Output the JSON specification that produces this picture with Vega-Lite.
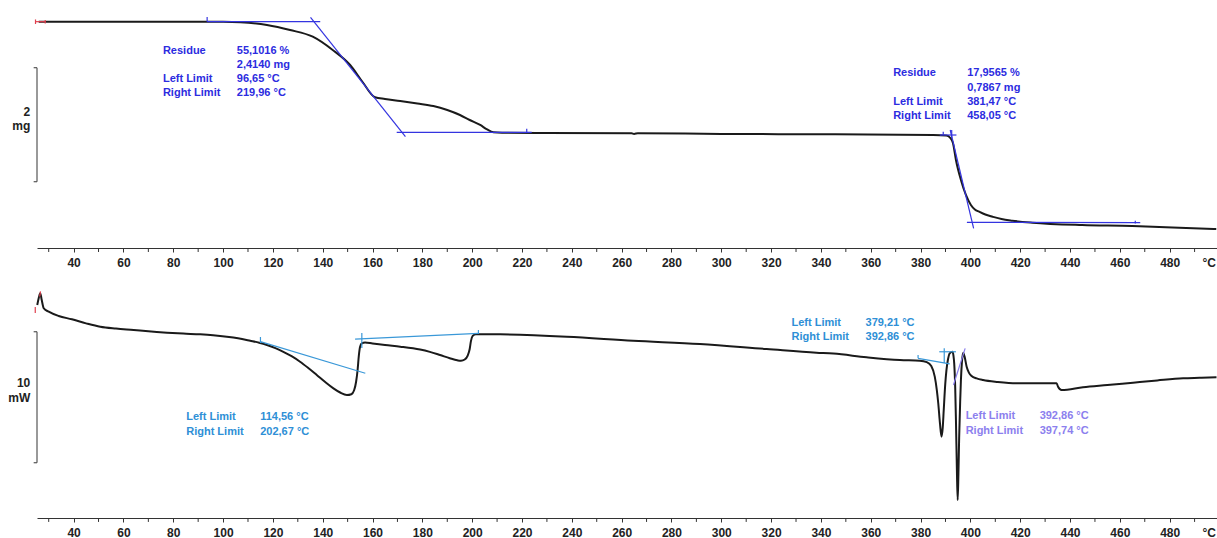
{
  "$schema": "https://vega.github.io/schema/vega-lite/v6.json",
  "padding": {"left": 8, "top": 8, "right": 0, "bottom": 0},
  "spacing": 14,
  "config": {
    "font": "Liberation Sans",
    "view": {"stroke": null},
    "axisX": {"domainColor": "#333333", "domainWidth": 1, "tickColor": "#333333", "tickSize": 4, "labelFontSize": 12, "labelFontWeight": "bold", "labelColor": "#222222", "labelPadding": 5, "grid": false}
  },
  "datasets": {
    "ticks": [
      {"T": 30}, {"T": 50}, {"T": 70}, {"T": 90}, {"T": 110}, {"T": 130}, {"T": 150}, {"T": 170}, {"T": 190}, {"T": 210}, {"T": 230}, {"T": 250},
      {"T": 270}, {"T": 290}, {"T": 310}, {"T": 330}, {"T": 350}, {"T": 370}, {"T": 390}, {"T": 410}, {"T": 430}, {"T": 450}, {"T": 470}, {"T": 490}
    ],
    "tga": [
      {"T": 26, "m": 4.381}, {"T": 60, "m": 4.381}, {"T": 100, "m": 4.379}, {"T": 107, "m": 4.37},
      {"T": 117.6, "m": 4.323}, {"T": 126.9, "m": 4.235}, {"T": 136, "m": 4.118}, {"T": 144, "m": 3.885},
      {"T": 151, "m": 3.621}, {"T": 156, "m": 3.323}, {"T": 161, "m": 3.055}, {"T": 165, "m": 3.025},
      {"T": 171.1, "m": 2.99}, {"T": 178, "m": 2.946}, {"T": 184.4, "m": 2.902}, {"T": 190, "m": 2.832},
      {"T": 195.1, "m": 2.744}, {"T": 199, "m": 2.656}, {"T": 203.2, "m": 2.569}, {"T": 206, "m": 2.49},
      {"T": 208.5, "m": 2.441}, {"T": 212, "m": 2.432}, {"T": 230, "m": 2.428}, {"T": 264, "m": 2.425},
      {"T": 265, "m": 2.412}, {"T": 266.5, "m": 2.424}, {"T": 300, "m": 2.411}, {"T": 340, "m": 2.406},
      {"T": 385, "m": 2.393}, {"T": 390.3, "m": 2.384}, {"T": 392, "m": 2.34}, {"T": 393, "m": 2.253},
      {"T": 394.2, "m": 1.955}, {"T": 396.2, "m": 1.604}, {"T": 398.2, "m": 1.341}, {"T": 400.2, "m": 1.165},
      {"T": 401.8, "m": 1.086}, {"T": 403.5, "m": 1.048}, {"T": 406, "m": 0.998}, {"T": 408.9, "m": 0.96},
      {"T": 412.5, "m": 0.919}, {"T": 416.8, "m": 0.89}, {"T": 424.9, "m": 0.855}, {"T": 444.9, "m": 0.814},
      {"T": 465, "m": 0.797}, {"T": 478.4, "m": 0.774}, {"T": 498.7, "m": 0.744}
    ],
    "dsc": [
      {"T": 25.4, "P": 16.26}, {"T": 26.0, "P": 16.79}, {"T": 26.6, "P": 17.15}, {"T": 27.2, "P": 16.64},
      {"T": 28.0, "P": 16.01}, {"T": 30.0, "P": 15.75}, {"T": 34.0, "P": 15.42}, {"T": 39.3, "P": 15.17},
      {"T": 45.0, "P": 14.86}, {"T": 50.7, "P": 14.6}, {"T": 57.0, "P": 14.46}, {"T": 64.1, "P": 14.35},
      {"T": 70.0, "P": 14.25}, {"T": 77.5, "P": 14.15}, {"T": 84.0, "P": 14.08}, {"T": 90.8, "P": 14.02},
      {"T": 96.0, "P": 13.95}, {"T": 101.5, "P": 13.84}, {"T": 106.0, "P": 13.72}, {"T": 110.9, "P": 13.53},
      {"T": 114.5, "P": 13.38}, {"T": 117.6, "P": 13.21}, {"T": 121.0, "P": 12.97}, {"T": 124.2, "P": 12.69},
      {"T": 127.5, "P": 12.35}, {"T": 130.9, "P": 11.93}, {"T": 134.2, "P": 11.45}, {"T": 137.6, "P": 10.92},
      {"T": 141.0, "P": 10.38}, {"T": 144.3, "P": 9.9}, {"T": 147.0, "P": 9.58}, {"T": 149.7, "P": 9.39},
      {"T": 151.5, "P": 9.45}, {"T": 152.6, "P": 9.75}, {"T": 153.4, "P": 10.4}, {"T": 154.0, "P": 11.3},
      {"T": 154.5, "P": 12.4}, {"T": 155.0, "P": 13.08}, {"T": 155.7, "P": 13.33}, {"T": 157.0, "P": 13.4},
      {"T": 160.0, "P": 13.32}, {"T": 165.0, "P": 13.2}, {"T": 171.1, "P": 13.08}, {"T": 179.1, "P": 12.86},
      {"T": 183.0, "P": 12.68}, {"T": 187.1, "P": 12.44}, {"T": 191.0, "P": 12.2}, {"T": 194.0, "P": 12.04},
      {"T": 195.5, "P": 12.0}, {"T": 197.0, "P": 12.1}, {"T": 198.2, "P": 12.4}, {"T": 199.0, "P": 12.9},
      {"T": 199.5, "P": 13.5}, {"T": 200.2, "P": 13.9}, {"T": 201.5, "P": 14.03}, {"T": 211.2, "P": 14.02},
      {"T": 238, "P": 13.84}, {"T": 264.6, "P": 13.53}, {"T": 291.4, "P": 13.28}, {"T": 318.2, "P": 12.9},
      {"T": 338.2, "P": 12.62}, {"T": 345, "P": 12.55}, {"T": 358.3, "P": 12.27}, {"T": 371.7, "P": 12.06},
      {"T": 379.7, "P": 12.01}, {"T": 382.5, "P": 11.9}, {"T": 384.3, "P": 11.6}, {"T": 385.7, "P": 10.79},
      {"T": 386.5, "P": 9.8}, {"T": 387.1, "P": 8.76}, {"T": 387.8, "P": 7.2}, {"T": 388.4, "P": 6.21},
      {"T": 388.9, "P": 6.9}, {"T": 389.3, "P": 8.24}, {"T": 389.9, "P": 10.2}, {"T": 390.4, "P": 11.3},
      {"T": 391.0, "P": 12.1}, {"T": 391.7, "P": 12.57}, {"T": 392.8, "P": 12.69}, {"T": 393.2, "P": 12.4},
      {"T": 393.5, "P": 11.82}, {"T": 393.9, "P": 10.0}, {"T": 394.2, "P": 7.48}, {"T": 394.6, "P": 3.5},
      {"T": 394.9, "P": 1.37}, {"T": 395.2, "P": 3.4}, {"T": 395.5, "P": 6.21}, {"T": 395.9, "P": 8.9},
      {"T": 396.2, "P": 10.53}, {"T": 396.6, "P": 11.9}, {"T": 397.1, "P": 12.62}, {"T": 397.7, "P": 12.3},
      {"T": 398.5, "P": 11.55}, {"T": 399.4, "P": 11.1}, {"T": 400.5, "P": 10.84}, {"T": 402.5, "P": 10.66},
      {"T": 405.1, "P": 10.53}, {"T": 411.0, "P": 10.38}, {"T": 418.5, "P": 10.28}, {"T": 434.6, "P": 10.28},
      {"T": 435.2, "P": 10.02}, {"T": 436.6, "P": 9.77}, {"T": 445.2, "P": 9.98}, {"T": 455.0, "P": 10.15},
      {"T": 465.3, "P": 10.33}, {"T": 475.0, "P": 10.5}, {"T": 485.4, "P": 10.66}, {"T": 492.0, "P": 10.7},
      {"T": 498.8, "P": 10.74}
    ],
    "tgaSeg": [
      {"T1": 93.6, "v1": 4.381, "T2": 139.0, "v2": 4.381, "c": "tan"},
      {"T1": 93.6, "v1": 4.381, "T2": 93.6, "v2": 4.463, "c": "tan"},
      {"T1": 135.1, "v1": 4.458, "T2": 173.2, "v2": 2.363, "c": "tan"},
      {"T1": 169.7, "v1": 2.441, "T2": 223.9, "v2": 2.441, "c": "tan"},
      {"T1": 221.9, "v1": 2.441, "T2": 221.9, "v2": 2.504, "c": "tan"},
      {"T1": 387.7, "v1": 2.393, "T2": 394.4, "v2": 2.393, "c": "tan"},
      {"T1": 389.1, "v1": 2.393, "T2": 389.1, "v2": 2.451, "c": "tan"},
      {"T1": 392.5, "v1": 2.481, "T2": 392.5, "v2": 2.34, "c": "tan"},
      {"T1": 391.9, "v1": 2.481, "T2": 401.3, "v2": 0.756, "c": "tan"},
      {"T1": 398.6, "v1": 0.862, "T2": 468.2, "v2": 0.855, "c": "tan"},
      {"T1": 466.2, "v1": 0.89, "T2": 466.2, "v2": 0.84, "c": "tan"},
      {"T1": 24.7, "v1": 4.381, "T2": 28.6, "v2": 4.381, "c": "start"},
      {"T1": 24.7, "v1": 4.42, "T2": 24.7, "v2": 4.34, "c": "start"},
      {"T1": 28.6, "v1": 4.41, "T2": 28.6, "v2": 4.35, "c": "start"},
      {"T1": 25.3, "v1": 1.574, "T2": 25.3, "v2": 3.574, "c": "bar"},
      {"T1": 23.96, "v1": 1.574, "T2": 25.3, "v2": 1.574, "c": "bar"},
      {"T1": 23.96, "v1": 3.574, "T2": 25.3, "v2": 3.574, "c": "bar"}
    ],
    "dscSeg": [
      {"T1": 115.0, "v1": 13.46, "T2": 157.1, "v2": 11.05, "c": "tan2"},
      {"T1": 115.0, "v1": 13.36, "T2": 115.0, "v2": 13.82, "c": "tan2"},
      {"T1": 153.0, "v1": 13.66, "T2": 202.5, "v2": 14.1, "c": "tan2"},
      {"T1": 202.5, "v1": 14.05, "T2": 202.5, "v2": 14.35, "c": "tan2"},
      {"T1": 155.7, "v1": 14.12, "T2": 155.7, "v2": 12.98, "c": "tan2"},
      {"T1": 379.0, "v1": 12.19, "T2": 391.7, "v2": 11.76, "c": "tan2"},
      {"T1": 379.0, "v1": 12.19, "T2": 379.0, "v2": 12.44, "c": "tan2"},
      {"T1": 389.5, "v1": 12.95, "T2": 389.5, "v2": 11.83, "c": "tan2"},
      {"T1": 387.5, "v1": 12.69, "T2": 394.2, "v2": 12.69, "c": "tan2"},
      {"T1": 393.2, "v1": 10.15, "T2": 397.9, "v2": 12.95, "c": "lav"},
      {"T1": 24.6, "v1": 15.65, "T2": 24.6, "v2": 16.1, "c": "start"},
      {"T1": 26.4, "v1": 16.9, "T2": 26.7, "v2": 17.3, "c": "start"},
      {"T1": 25.3, "v1": 4.22, "T2": 25.3, "v2": 14.22, "c": "bar"},
      {"T1": 23.96, "v1": 4.22, "T2": 25.3, "v2": 4.22, "c": "bar"},
      {"T1": 23.96, "v1": 14.22, "T2": 25.3, "v2": 14.22, "c": "bar"}
    ],
    "tgaText": [
      {"T": 75.85, "v": 3.867, "text": "Residue", "c": "tga"},
      {"T": 105.5, "v": 3.867, "text": "55,1016 %", "c": "tga"},
      {"T": 105.5, "v": 3.621, "text": "2,4140 mg", "c": "tga"},
      {"T": 75.85, "v": 3.371, "text": "Left Limit", "c": "tga"},
      {"T": 105.5, "v": 3.371, "text": "96,65 °C", "c": "tga"},
      {"T": 75.85, "v": 3.125, "text": "Right Limit", "c": "tga"},
      {"T": 105.5, "v": 3.125, "text": "219,96 °C", "c": "tga"},
      {"T": 369.0, "v": 3.476, "text": "Residue", "c": "tga"},
      {"T": 398.7, "v": 3.476, "text": "17,9565 %", "c": "tga"},
      {"T": 398.7, "v": 3.223, "text": "0,7867 mg", "c": "tga"},
      {"T": 369.0, "v": 2.977, "text": "Left Limit", "c": "tga"},
      {"T": 398.7, "v": 2.977, "text": "381,47 °C", "c": "tga"},
      {"T": 369.0, "v": 2.727, "text": "Right Limit", "c": "tga"},
      {"T": 398.7, "v": 2.727, "text": "458,05 °C", "c": "tga"}
    ],
    "dscText": [
      {"T": 85.2, "v": 7.69, "text": "Left Limit", "c": "dsc"},
      {"T": 114.9, "v": 7.69, "text": "114,56 °C", "c": "dsc"},
      {"T": 85.2, "v": 6.54, "text": "Right Limit", "c": "dsc"},
      {"T": 114.9, "v": 6.54, "text": "202,67 °C", "c": "dsc"},
      {"T": 328.2, "v": 14.91, "text": "Left Limit", "c": "dsc"},
      {"T": 357.9, "v": 14.91, "text": "379,21 °C", "c": "dsc"},
      {"T": 328.2, "v": 13.84, "text": "Right Limit", "c": "dsc"},
      {"T": 357.9, "v": 13.84, "text": "392,86 °C", "c": "dsc"},
      {"T": 398.1, "v": 7.79, "text": "Left Limit", "c": "lav"},
      {"T": 427.8, "v": 7.79, "text": "392,86 °C", "c": "lav"},
      {"T": 398.1, "v": 6.66, "text": "Right Limit", "c": "lav"},
      {"T": 427.8, "v": 6.66, "text": "397,74 °C", "c": "lav"}
    ],
    "tgaUnit": [
      {"T": 22.6, "v": 2.797, "text": "2"},
      {"T": 22.6, "v": 2.551, "text": "mg"},
      {"T": 498.6, "v": 0.148, "text": "°C"}
    ],
    "dscUnit": [
      {"T": 22.6, "v": 10.31, "text": "10"},
      {"T": 22.6, "v": 9.18, "text": "mW"},
      {"T": 498.6, "v": -1.15, "text": "°C"}
    ]
  },
  "vconcat": [
    {
      "width": 1180,
      "height": 240,
      "layer": [
        {
          "data": {"name": "tga"},
          "mark": {"type": "line", "color": "#1a1a1a", "strokeWidth": 2, "interpolate": "monotone"},
          "encoding": {
            "x": {"field": "T", "type": "quantitative", "scale": {"domain": [25.3, 499], "nice": false, "zero": false},
              "axis": {"values": [40, 60, 80, 100, 120, 140, 160, 180, 200, 220, 240, 260, 280, 300, 320, 340, 360, 380, 400, 420, 440, 460, 480], "title": null, "labelFlush": false}},
            "y": {"field": "m", "type": "quantitative", "scale": {"domain": [0.411, 4.621], "nice": false, "zero": false}, "axis": null}
          }
        },
        {
          "data": {"name": "ticks"},
          "mark": {"type": "rule", "color": "#333333", "strokeWidth": 1},
          "encoding": {
            "x": {"field": "T", "type": "quantitative"},
            "y": {"datum": 0.411},
            "y2": {"datum": 0.341}
          }
        },
        {
          "data": {"name": "tgaSeg"},
          "mark": {"type": "rule", "strokeWidth": 1.2},
          "encoding": {
            "x": {"field": "T1", "type": "quantitative"},
            "x2": {"field": "T2"},
            "y": {"field": "v1", "type": "quantitative"},
            "y2": {"field": "v2"},
            "color": {"field": "c", "type": "nominal", "scale": {"domain": ["tan", "start", "bar"], "range": ["#3434e0", "#e0404f", "#555555"]}, "legend": null}
          }
        },
        {
          "data": {"name": "tgaText"},
          "mark": {"type": "text", "align": "left", "baseline": "middle", "fontSize": 11, "fontWeight": "bold"},
          "encoding": {
            "x": {"field": "T", "type": "quantitative"},
            "y": {"field": "v", "type": "quantitative"},
            "text": {"field": "text"},
            "color": {"field": "c", "type": "nominal", "scale": {"domain": ["tga"], "range": ["#2c2ce0"]}, "legend": null}
          }
        },
        {
          "data": {"name": "tgaUnit"},
          "mark": {"type": "text", "align": "right", "baseline": "middle", "fontSize": 12, "fontWeight": "bold", "color": "#222222"},
          "encoding": {
            "x": {"field": "T", "type": "quantitative"},
            "y": {"field": "v", "type": "quantitative"},
            "text": {"field": "text"}
          }
        }
      ],
      "resolve": {"scale": {"color": "independent"}}
    },
    {
      "width": 1180,
      "height": 235,
      "layer": [
        {
          "data": {"name": "dsc"},
          "mark": {"type": "line", "color": "#1a1a1a", "strokeWidth": 2, "interpolate": "monotone"},
          "encoding": {
            "x": {"field": "T", "type": "quantitative", "scale": {"domain": [25.3, 499], "nice": false, "zero": false},
              "axis": {"values": [40, 60, 80, 100, 120, 140, 160, 180, 200, 220, 240, 260, 280, 300, 320, 340, 360, 380, 400, 420, 440, 460, 480], "title": null, "labelFlush": false}},
            "y": {"field": "P", "type": "quantitative", "scale": {"domain": [0, 17.94], "nice": false, "zero": false}, "axis": null}
          }
        },
        {
          "data": {"name": "ticks"},
          "mark": {"type": "rule", "color": "#333333", "strokeWidth": 1},
          "encoding": {
            "x": {"field": "T", "type": "quantitative"},
            "y": {"datum": 0},
            "y2": {"datum": -0.3}
          }
        },
        {
          "data": {"name": "dscSeg"},
          "mark": {"type": "rule", "strokeWidth": 1.2},
          "encoding": {
            "x": {"field": "T1", "type": "quantitative"},
            "x2": {"field": "T2"},
            "y": {"field": "v1", "type": "quantitative"},
            "y2": {"field": "v2"},
            "color": {"field": "c", "type": "nominal", "scale": {"domain": ["tan2", "lav", "start", "bar"], "range": ["#3a98d8", "#8c80ee", "#e0404f", "#555555"]}, "legend": null}
          }
        },
        {
          "data": {"name": "dscText"},
          "mark": {"type": "text", "align": "left", "baseline": "middle", "fontSize": 11, "fontWeight": "bold"},
          "encoding": {
            "x": {"field": "T", "type": "quantitative"},
            "y": {"field": "v", "type": "quantitative"},
            "text": {"field": "text"},
            "color": {"field": "c", "type": "nominal", "scale": {"domain": ["dsc", "lav"], "range": ["#2e8fd6", "#8c80ee"]}, "legend": null}
          }
        },
        {
          "data": {"name": "dscUnit"},
          "mark": {"type": "text", "align": "right", "baseline": "middle", "fontSize": 12, "fontWeight": "bold", "color": "#222222"},
          "encoding": {
            "x": {"field": "T", "type": "quantitative"},
            "y": {"field": "v", "type": "quantitative"},
            "text": {"field": "text"}
          }
        }
      ],
      "resolve": {"scale": {"color": "independent"}}
    }
  ]
}
